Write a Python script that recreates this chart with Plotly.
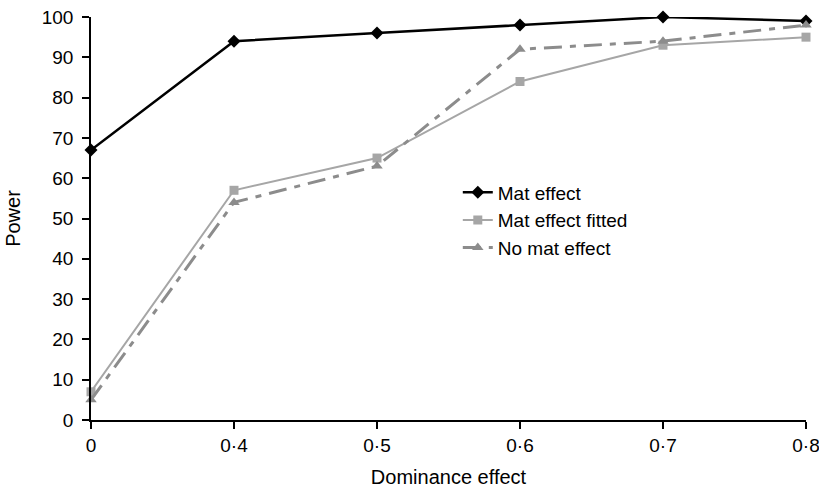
import plotly.graph_objects as go

categories = ["0", "0·4", "0·5", "0·6", "0·7", "0·8"]
mat_effect = [67, 94, 96, 98, 100, 99]
mat_effect_fitted = [7, 57, 65, 84, 93, 95]
no_mat_effect = [5, 54, 63, 92, 94, 98]
y_ticks = [0, 10, 20, 30, 40, 50, 60, 70, 80, 90, 100]

FONT = "Liberation Sans, Arial, Helvetica, sans-serif"

fig = go.Figure()
fig.add_trace(go.Scatter(
    x=categories, y=mat_effect, name="Mat effect", mode="lines+markers",
    line=dict(color="#000000", width=2.5),
    marker=dict(symbol="diamond", size=10, color="#000000"),
    cliponaxis=False))
fig.add_trace(go.Scatter(
    x=categories, y=mat_effect_fitted, name="Mat effect fitted", mode="lines+markers",
    line=dict(color="#a6a6a6", width=2),
    marker=dict(symbol="square", size=9, color="#a6a6a6"),
    cliponaxis=False))
fig.add_trace(go.Scatter(
    x=categories, y=no_mat_effect, name="No mat effect", mode="lines+markers",
    line=dict(color="#8c8c8c", width=3, dash="18px,8px,6px,8px"),
    marker=dict(symbol="triangle-up", size=10, color="#8c8c8c"),
    cliponaxis=False))

fig.update_layout(
    width=819, height=490,
    margin=dict(l=91, r=13, t=17, b=70),
    paper_bgcolor="white", plot_bgcolor="white",
    font=dict(family=FONT, size=20, color="#000000"),
    showlegend=True,
    legend=dict(x=0.513, y=0.612, xanchor="left", yanchor="top",
                bgcolor="rgba(0,0,0,0)", font=dict(size=19),
                traceorder="normal"),
    xaxis=dict(
        type="category", categoryorder="array", categoryarray=categories,
        range=[0, 5], showgrid=False, zeroline=False, automargin=False,
        showline=True, linecolor="#000000", linewidth=1.5,
        ticks="outside", ticklen=7, tickcolor="#000000", tickwidth=1.5,
        ticklabeloverflow="allow",
        title=dict(text="Dominance effect", font=dict(size=20)),
        tickfont=dict(size=19)),
    yaxis=dict(
        range=[0, 100], tickvals=y_ticks, showgrid=False, zeroline=False,
        automargin=False,
        showline=True, linecolor="#000000", linewidth=1.5,
        ticks="outside", ticklen=7, tickcolor="#000000", tickwidth=1.5,
        ticklabeloverflow="allow", ticklabelstandoff=5,
        title=dict(text="Power", font=dict(size=20), standoff=16),
        tickfont=dict(size=19)),
)

fig.write_html("out.html", config={"displayModeBar": False},
               post_script="document.body.style.margin='0';")
